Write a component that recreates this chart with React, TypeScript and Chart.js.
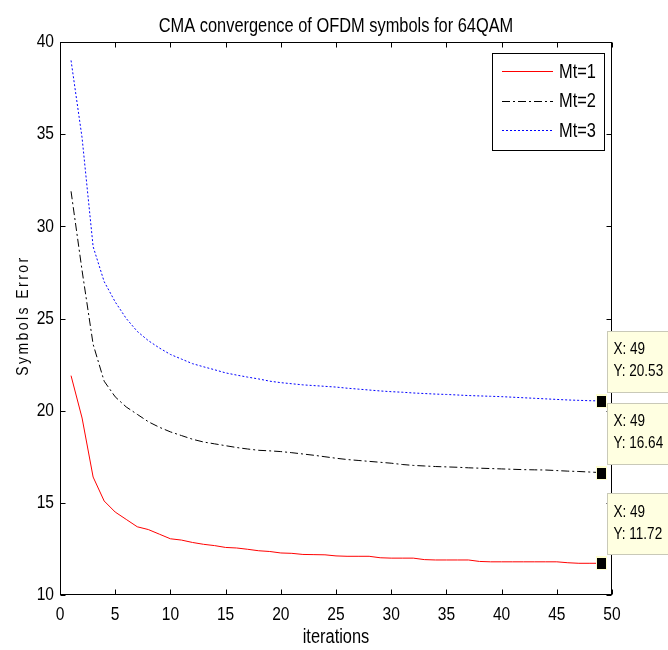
import React, { useEffect, useRef } from "react";
import { Chart, registerables } from "chart.js";

Chart.register(...registerables);

const titleText = "CMA convergence of OFDM symbols for 64QAM";
const xTitle = "iterations";
const yTitle = "Symbols Error";
const seriesLabels = ["Mt=1", "Mt=2", "Mt=3"];
const seriesColors = ["#ff0000", "#000000", "#0000ff"];

const iterations = [
  1, 2, 3, 4, 5, 6, 7, 8, 9, 10, 11, 12, 13, 14, 15, 16, 17, 18, 19, 20, 21, 22, 23, 24, 25,
  26, 27, 28, 29, 30, 31, 32, 33, 34, 35, 36, 37, 38, 39, 40, 41, 42, 43, 44, 45, 46, 47, 48, 49,
];

const mt1 = [
  21.9, 19.6, 16.4, 15.1, 14.5, 14.1, 13.7, 13.55, 13.3, 13.05, 12.98, 12.85, 12.75, 12.68, 12.58,
  12.55, 12.48, 12.4, 12.36, 12.28, 12.26, 12.2, 12.19, 12.18, 12.12, 12.1, 12.1, 12.1, 12.02, 12.0,
  12.0, 12.0, 11.92, 11.9, 11.9, 11.9, 11.9, 11.82, 11.8, 11.8, 11.8, 11.8, 11.8, 11.8, 11.8,
  11.75, 11.72, 11.72, 11.72,
];

const mt2 = [
  31.9, 27.6, 23.6, 21.6, 20.75, 20.2, 19.8, 19.4, 19.1, 18.85, 18.65, 18.45, 18.3, 18.2, 18.1,
  18.0, 17.92, 17.85, 17.82, 17.78, 17.72, 17.65, 17.58, 17.5, 17.42, 17.35, 17.3, 17.25, 17.2,
  17.15, 17.08, 17.03, 17.0, 16.97, 16.95, 16.93, 16.9, 16.88, 16.86, 16.84, 16.82, 16.8, 16.79,
  16.78, 16.75, 16.72, 16.7, 16.67, 16.64,
];

const mt3 = [
  39.0, 34.8, 28.9, 27.0, 25.9, 25.0, 24.3, 23.8, 23.4, 23.05, 22.8, 22.55, 22.38, 22.22, 22.05,
  21.93, 21.82, 21.72, 21.6, 21.52, 21.46, 21.4, 21.36, 21.32, 21.28, 21.22, 21.17, 21.12, 21.07,
  21.03, 21.0, 20.96, 20.93, 20.9, 20.88, 20.85, 20.82, 20.8, 20.78, 20.76, 20.73, 20.7, 20.67,
  20.64, 20.61, 20.58, 20.56, 20.54, 20.53,
];

const seriesValues = [mt1, mt2, mt3];
const seriesDashes = [[], [8, 3, 2, 3], [2, 2]];

const FONT = "'Liberation Sans', Arial, Helvetica, sans-serif";
const CONDENSE = 0.82;

// Draw all canvas text horizontally condensed (like the squeezed original figure)
const condensePlugin = {
  id: "condense",
  beforeDraw(chart: any) {
    const ctx: any = chart.ctx;
    if (ctx.__condensed) return;
    const orig = ctx.fillText;
    ctx.__condensed = true;
    ctx.fillText = function (text: string, x: number, y: number, maxWidth?: number) {
      this.save();
      this.translate(x, y);
      this.scale(CONDENSE, 1);
      if (maxWidth === undefined) orig.call(this, text, 0, 0);
      else orig.call(this, text, 0, 0, maxWidth / CONDENSE);
      this.restore();
    };
  },
};

const overlayPlugin = {
  id: "overlay",
  afterDraw(chart: any) {
    const { ctx, chartArea: a, scales } = chart;
    const xs = scales.x;
    const ys = scales.y;
    ctx.save();

    // axes box
    const L = Math.round(a.left) + 0.5;
    const R = Math.round(a.right) - 0.5;
    const T = Math.round(a.top) + 0.5;
    const B = Math.round(a.bottom) - 0.5;
    ctx.strokeStyle = "#000";
    ctx.lineWidth = 1;
    ctx.setLineDash([]);
    ctx.strokeRect(L, T, R - L, B - T);

    // inward tick marks
    const tl = 5;
    ctx.beginPath();
    xs.ticks.forEach((t: any) => {
      const px = Math.round(xs.getPixelForValue(t.value)) + 0.5;
      ctx.moveTo(px, B);
      ctx.lineTo(px, B - tl);
      ctx.moveTo(px, T);
      ctx.lineTo(px, T + tl);
    });
    ys.ticks.forEach((t: any) => {
      const py = Math.round(ys.getPixelForValue(t.value)) + 0.5;
      ctx.moveTo(L, py);
      ctx.lineTo(L + tl, py);
      ctx.moveTo(R, py);
      ctx.lineTo(R - tl, py);
    });
    ctx.stroke();

    // title
    ctx.fillStyle = "#000";
    ctx.textAlign = "center";
    ctx.textBaseline = "middle";
    ctx.font = `20px ${FONT}`;
    ctx.fillText(titleText, (a.left + a.right) / 2, 26);

    // x title
    ctx.font = `20px ${FONT}`;
    ctx.fillText(xTitle, (a.left + a.right) / 2, 637);

    // y title
    ctx.save();
    ctx.translate(23, 317);
    ctx.rotate(-Math.PI / 2);
    ctx.font = `17px ${FONT}`;
    (ctx as any).letterSpacing = "3px";
    ctx.fillText(yTitle, 1.5, 0);
    ctx.restore();

    // legend
    const lx = 492.5, ly = 53.5, lw = 112, lh = 97;
    ctx.fillStyle = "#fff";
    ctx.fillRect(lx, ly, lw, lh);
    ctx.strokeStyle = "#000";
    ctx.strokeRect(lx, ly, lw, lh);
    chart.data.datasets.forEach((ds: any, i: number) => {
      const ry = 71 + i * 29.7;
      ctx.strokeStyle = ds.borderColor;
      ctx.setLineDash(ds.borderDash || []);
      ctx.beginPath();
      ctx.moveTo(502, Math.round(ry) + 0.5);
      ctx.lineTo(553, Math.round(ry) + 0.5);
      ctx.stroke();
      ctx.setLineDash([]);
      ctx.fillStyle = "#000";
      ctx.textAlign = "left";
      ctx.textBaseline = "middle";
      ctx.font = `20px ${FONT}`;
      ctx.fillText(ds.label, 559, ry + 1);
    });

    // data tips at last point
    chart.data.datasets.forEach((ds: any) => {
      const last = ds.data[ds.data.length - 1];
      const px = xs.getPixelForValue(last.x);
      const py = ys.getPixelForValue(last.y);
      const bx = Math.round(px + 6) + 0.5;
      const by = Math.round(py - 70) + 0.5;
      const bh = 61;
      ctx.fillStyle = "#ffffe1";
      ctx.fillRect(bx, by, 200, bh);
      ctx.strokeStyle = "#c9c9b8";
      ctx.strokeRect(bx, by, 200, bh);
      ctx.fillStyle = "#000";
      ctx.textAlign = "left";
      ctx.textBaseline = "middle";
      ctx.font = `16.5px ${FONT}`;
      ctx.fillText(`X: ${last.x}`, bx + 6, py - 51);
      ctx.fillText(`Y: ${last.y.toFixed(2)}`, bx + 6, py - 29);
      // marker
      ctx.fillStyle = "#ffffd0";
      ctx.fillRect(Math.round(px) - 5, Math.round(py) - 7, 11, 14);
      ctx.fillStyle = "#000";
      ctx.fillRect(Math.round(px) - 4, Math.round(py) - 5, 9, 11);
    });

    ctx.restore();
  },
};

export default function App() {
  const ref = useRef<HTMLCanvasElement | null>(null);

  useEffect(() => {
    document.body.style.margin = "0";
    const canvas = ref.current;
    if (!canvas) return;
    const chart = new Chart(canvas, {
      type: "line",
      data: {
        datasets: seriesValues.map((vals, si) => ({
          label: seriesLabels[si],
          data: vals.map((v, i) => ({ x: iterations[i], y: v })),
          borderColor: seriesColors[si],
          backgroundColor: seriesColors[si],
          borderDash: seriesDashes[si],
          borderWidth: 1,
          pointRadius: 0,
          tension: 0,
          fill: false,
        })),
      },
      options: {
        responsive: false,
        devicePixelRatio: 1,
        animation: false,
        events: [],
        layout: { padding: { left: 0, top: 42, right: 56, bottom: 0 } },
        plugins: {
          legend: { display: false },
          tooltip: { enabled: false },
          title: { display: false },
        },
        scales: {
          x: {
            type: "linear",
            min: 0,
            max: 50,
            grid: { display: false, drawTicks: false },
            border: { display: false },
            ticks: {
              stepSize: 5,
              color: "#000",
              padding: 8,
              maxRotation: 0,
              autoSkip: false,
              font: { family: FONT, size: 19 },
            },
            afterFit: (s: any) => {
              s.height = 55;
            },
          },
          y: {
            type: "linear",
            min: 10,
            max: 40,
            grid: { display: false, drawTicks: false },
            border: { display: false },
            ticks: {
              stepSize: 5,
              color: "#000",
              padding: 6,
              font: { family: FONT, size: 19 },
            },
            afterFit: (s: any) => {
              s.width = 60;
            },
          },
        },
      },
      plugins: [condensePlugin, overlayPlugin],
    } as any);
    return () => chart.destroy();
  }, []);

  return (
    <canvas
      ref={ref}
      width={668}
      height={650}
      style={{ position: "absolute", left: 0, top: 0, display: "block", width: 668, height: 650 }}
    />
  );
}
